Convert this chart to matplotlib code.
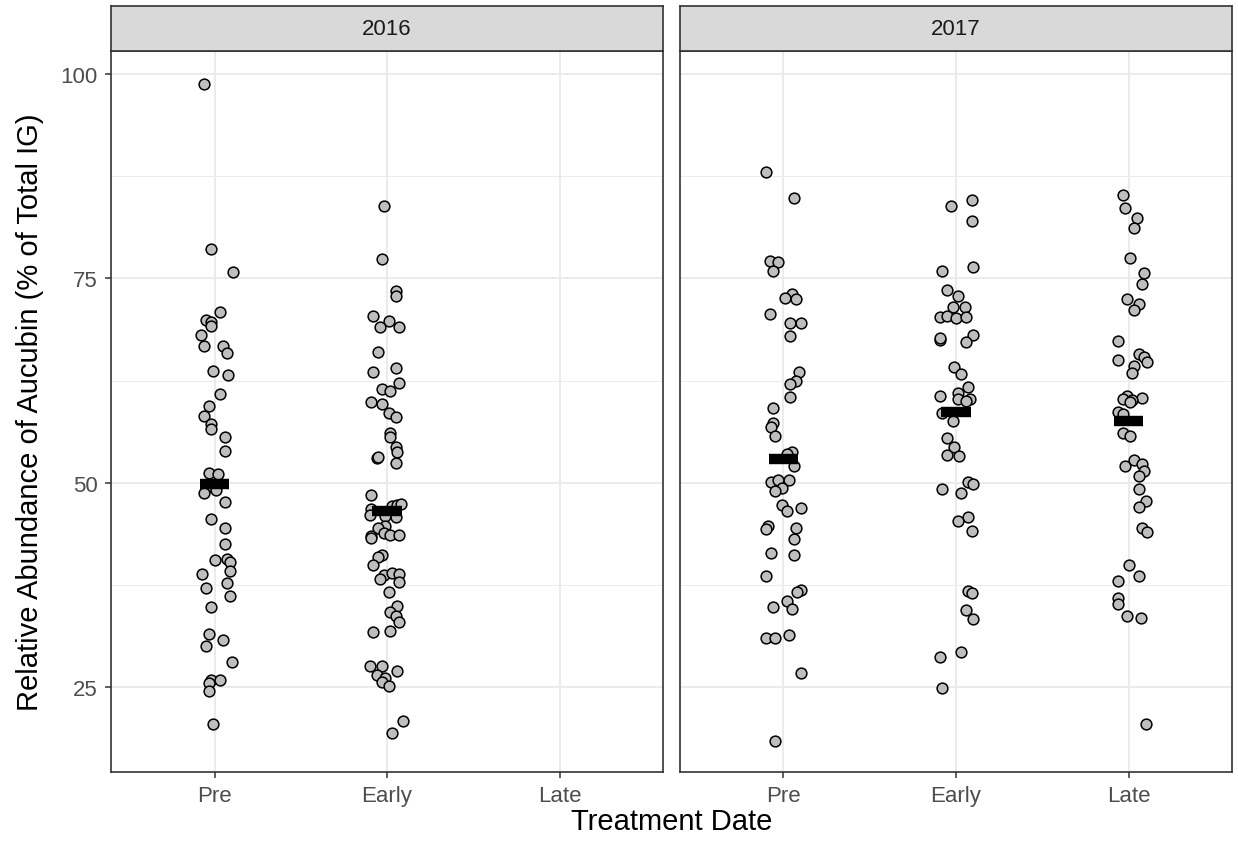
import matplotlib
matplotlib.use("Agg")
import matplotlib.pyplot as plt
import numpy as np

plt.rcParams['font.family'] = ['Liberation Sans', 'DejaVu Sans']

categories = ["Pre", "Early", "Late"]
years = ["2016", "2017"]

# relative abundance values (%) and the jitter (category units)
y2016_pre = [98.8, 78.6, 75.8, 70.9, 69.9, 69.7, 69.2, 68.1, 66.7, 66.7, 65.9, 63.7,
             63.2, 60.9, 59.4, 58.2, 57.2, 56.6, 55.6, 53.9, 51.2, 51.1, 49.4, 48.7,
             49.1, 47.6, 45.6, 44.5, 42.5, 40.6, 40.7, 40.3, 39.2, 38.8, 37.8, 37.2,
             36.2, 34.8, 31.5, 30.8, 30.1, 28.1, 25.9, 25.9, 25.5, 24.5, 20.5]
j2016_pre = [-0.06, -0.02, 0.11, 0.03, -0.05, -0.02, -0.02, -0.08, -0.06, 0.05, 0.07, -0.01,
             0.08, 0.03, -0.03, -0.06, -0.02, -0.02, 0.06, 0.06, -0.03, 0.02, -0.05, -0.06,
             0.01, 0.06, -0.02, 0.06, 0.06, 0.00, 0.07, 0.09, 0.09, -0.07, 0.07, -0.05,
             0.09, -0.02, -0.03, 0.05, -0.05, 0.10, -0.02, 0.03, -0.03, -0.03, -0.01]

y2016_early = [83.9, 77.4, 73.5, 72.9, 70.4, 69.8, 69.1, 69.1, 66.0, 63.6, 64.1, 62.2,
               61.5, 61.2, 59.9, 59.6, 58.6, 58.0, 56.1, 55.6, 54.4, 53.8, 53.1, 53.2,
               52.4, 48.5, 46.8, 46.1, 47.2, 47.3, 47.4, 45.9, 45.8, 44.7, 44.5, 43.5,
               43.2, 43.9, 43.6, 43.6, 41.2, 40.9, 39.9, 38.7, 38.2, 39.0, 38.9, 37.9,
               36.7, 35.0, 34.2, 33.7, 33.0, 31.9, 31.8, 27.6, 27.6, 26.5, 26.2, 25.7,
               25.2, 27.0, 20.9, 19.4]
j2016_early = [-0.02, -0.03, 0.05, 0.05, -0.08, 0.01, -0.04, 0.07, -0.05, -0.08, 0.05, 0.07,
               -0.03, 0.02, -0.09, -0.03, 0.01, 0.05, 0.02, 0.02, 0.05, 0.06, -0.06, -0.05,
               0.05, -0.09, -0.09, -0.10, 0.03, 0.06, 0.08, -0.01, 0.05, -0.01, -0.05, -0.09,
               -0.09, -0.02, 0.02, 0.07, -0.03, -0.05, -0.08, -0.02, -0.04, 0.03, 0.07, 0.07,
               0.01, 0.06, 0.02, 0.05, 0.07, 0.02, -0.08, -0.10, -0.03, -0.06, -0.01, -0.03,
               0.01, 0.06, 0.09, 0.03]

y2017_pre = [88.0, 84.8, 77.1, 77.0, 75.9, 73.1, 72.6, 72.5, 70.7, 69.5, 69.6, 68.0,
             63.6, 62.5, 62.1, 60.5, 59.2, 57.3, 56.8, 55.7, 53.8, 53.5, 52.1, 50.1,
             50.4, 50.4, 49.4, 49.0, 47.3, 46.5, 46.9, 44.7, 44.4, 44.5, 43.1, 41.4,
             41.2, 38.6, 36.9, 36.6, 35.6, 34.6, 34.8, 31.0, 31.0, 31.4, 26.8, 18.5]
j2017_pre = [-0.10, 0.06, -0.08, -0.03, -0.06, 0.05, 0.01, 0.07, -0.08, 0.04, 0.10, 0.04,
             0.09, 0.07, 0.04, 0.04, -0.06, -0.06, -0.07, -0.05, 0.05, 0.02, 0.06, -0.07,
             -0.03, 0.03, -0.01, -0.05, -0.01, 0.02, 0.10, -0.09, -0.10, 0.07, 0.06, -0.07,
             0.06, -0.10, 0.10, 0.08, 0.02, 0.05, -0.06, -0.10, -0.05, 0.03, 0.10, -0.05]

y2017_early = [84.6, 83.9, 82.0, 76.4, 75.9, 73.6, 72.9, 71.5, 71.5, 70.3, 70.4, 70.2,
               70.3, 67.5, 67.7, 68.1, 67.2, 64.2, 63.3, 61.7, 60.6, 61.0, 60.3, 60.2,
               60.0, 58.6, 57.6, 55.5, 54.4, 53.4, 53.3, 49.3, 50.1, 49.9, 48.7, 45.8,
               45.3, 44.1, 36.8, 36.5, 34.4, 33.4, 29.3, 28.7, 24.9]
j2017_early = [0.09, -0.03, 0.09, 0.10, -0.08, -0.05, 0.01, -0.02, 0.05, -0.09, -0.05, 0.00,
               0.06, -0.09, -0.09, 0.10, 0.06, -0.01, 0.03, 0.07, -0.09, 0.01, 0.08, 0.01,
               0.06, -0.08, -0.02, -0.05, -0.01, -0.05, 0.02, -0.08, 0.07, 0.10, 0.03, 0.07,
               0.01, 0.09, 0.07, 0.09, 0.06, 0.10, 0.03, -0.09, -0.08]

y2017_late = [85.2, 83.6, 82.4, 81.2, 77.5, 75.7, 74.3, 72.5, 71.9, 71.1, 67.4, 65.8,
              65.4, 64.8, 65.0, 64.3, 63.4, 60.4, 60.6, 60.2, 60.1, 59.9, 58.7, 58.4,
              56.1, 55.7, 52.1, 52.8, 52.3, 51.5, 50.9, 49.3, 47.8, 47.1, 44.5, 44.0,
              39.9, 38.6, 38.0, 35.9, 35.2, 33.7, 33.5, 20.5]
j2017_late = [-0.03, -0.02, 0.05, 0.03, 0.01, 0.09, 0.08, -0.01, 0.06, 0.03, -0.06, 0.06,
              0.09, 0.11, -0.06, 0.03, 0.02, 0.08, -0.01, -0.03, 0.02, 0.01, -0.06, -0.03,
              -0.03, 0.01, -0.02, 0.03, 0.08, 0.09, 0.06, 0.06, 0.10, 0.06, 0.08, 0.11,
              0.00, 0.06, -0.06, -0.06, -0.06, -0.01, 0.07, 0.10]

# group means as drawn
means_2016 = [49.9, 46.6]
means_2017 = [52.9, 58.7, 57.6]

panels = {
    "2016": [(y2016_pre, j2016_pre), (y2016_early, j2016_early)],
    "2017": [(y2017_pre, j2017_pre), (y2017_early, j2017_early), (y2017_late, j2017_late)],
}
panel_means = {"2016": means_2016, "2017": means_2017}

fig = plt.figure(figsize=(12.38, 8.45), dpi=100)
W, H = 1238, 845
bottom = (H - 773) / H
height = (773 - 52) / H
strip_h = (52 - 7) / H
lefts = [111 / W, 680 / W]
width = 552 / W

border = '#333333'
for i, yr in enumerate(years):
    ax = fig.add_axes([lefts[i], bottom, width, height])
    ax.set_xlim(0.4, 3.6)
    ax.set_ylim(14.65, 102.8)
    ax.set_yticks([25, 50, 75, 100])
    ax.set_yticks([37.5, 62.5, 87.5], minor=True)
    ax.set_xticks([1, 2, 3])
    ax.set_xticklabels(categories)
    ax.grid(True, which='major', color='#EBEBEB', linewidth=1.4, zorder=0)
    ax.grid(True, which='minor', axis='y', color='#EBEBEB', linewidth=0.7, zorder=0)
    ax.set_axisbelow(True)
    for s in ax.spines.values():
        s.set_color(border)
        s.set_linewidth(1.2)
    ax.tick_params(axis='both', which='major', length=4.5, width=1.1, color=border,
                   labelsize=16, labelcolor='#4D4D4D', pad=5)
    ax.tick_params(axis='y', which='minor', length=0)
    if i == 1:
        ax.tick_params(axis='y', which='both', labelleft=False, length=0)

    for k, (vals, jit) in enumerate(panels[yr]):
        xs = (k + 1) + np.array(jit)
        ax.scatter(xs, vals, s=60, facecolor='#BEBEBE', edgecolor='black',
                   linewidths=1.1, zorder=3)
    for k, m in enumerate(panel_means[yr]):
        ax.hlines(m, k + 1 - 0.085, k + 1 + 0.085, color='black', linewidth=7.5, zorder=4)

    sax = fig.add_axes([lefts[i], bottom + height, width, strip_h])
    sax.set_facecolor('#D9D9D9')
    sax.set_xticks([])
    sax.set_yticks([])
    for s in sax.spines.values():
        s.set_color(border)
        s.set_linewidth(1.2)
    sax.text(0.5, 0.5, yr, ha='center', va='center', fontsize=16, color='#1A1A1A',
             transform=sax.transAxes)

fig.text((111 + 1232) / 2 / W, 1 - 822 / H, "Treatment Date", ha='center', va='center',
         fontsize=21, color='black')
fig.text(30 / W, 1 - 412 / H, "Relative Abundance of Aucubin (% of Total IG)",
         ha='center', va='center', rotation=90, fontsize=21, color='black')

fig.savefig("out.png", dpi=100)
